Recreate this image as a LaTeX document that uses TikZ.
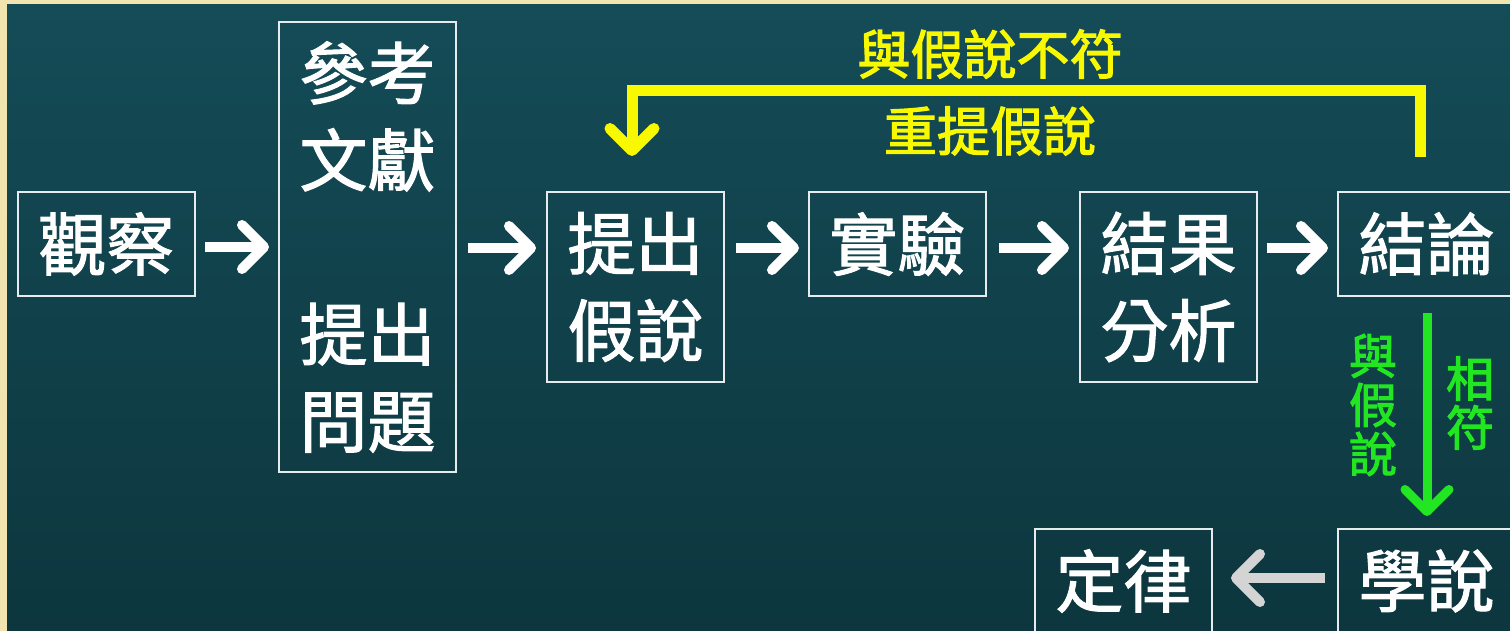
\documentclass[tikz,border=0pt]{standalone}
\usepackage{fontspec}
\newfontfamily\cjk[FakeBold=1.6]{Noto Sans CJK TC}
\newfontfamily\cjkb[FakeBold=2.2]{Noto Sans CJK TC}
\usetikzlibrary{arrows.meta}
\definecolor{beige}{HTML}{F2E4AE}
\definecolor{tealtop}{HTML}{144C57}
\definecolor{tealbot}{HTML}{0D363E}
\definecolor{boxline}{HTML}{E6ECEE}
\definecolor{yel}{HTML}{F8F800}
\definecolor{grn}{HTML}{22E622}
\definecolor{gry}{HTML}{D4D4D4}
\tikzset{
  box/.style={draw=boxline, line width=2pt, minimum width=177pt, inner sep=0pt,
    text=white, font=\cjk\fontsize{68}{87}\selectfont, align=center},
  warr/.style={draw=white, line width=10pt,
    -{Straight Barb[length=22pt,width=44pt,round]}},
  yarr/.style={draw=yel, line width=11pt,
    -{Straight Barb[length=22pt,width=44pt,round]}},
  garr/.style={draw=grn, line width=9pt,
    -{Straight Barb[length=22pt,width=44pt,round]}},
  gyarr/.style={draw=gry, line width=10pt,
    -{Straight Barb[length=24pt,width=48pt,round]}},
  ylab/.style={text=yel, font=\cjkb\fontsize{53}{53}\selectfont, inner sep=0pt},
  glab/.style={text=grn, font=\cjkb\fontsize{48}{49}\selectfont, inner sep=0pt, align=center},
}
\begin{document}
\begin{tikzpicture}[x=1pt,y=-1pt]
\useasboundingbox (0,0) rectangle (1510,631);
\fill[beige] (0,0) rectangle (1510,631);
\shade[top color=tealtop, bottom color=tealbot] (7,5) rectangle (1510,631);
\begin{scope}
\clip (7,5) rectangle (1510,631);
\node[box, minimum height=104pt] (obs) at (106.5,244) {觀察};
\node[box, minimum height=450pt] (ref) at (367.5,247) {參考\\文獻\\\mbox{}\\提出\\問題};
\node[box, minimum height=190pt] (hyp) at (635.5,287) {提出\\假說};
\node[box, minimum height=104pt] (exp) at (897.5,244) {實驗};
\node[box, minimum height=190pt] (ana) at (1168.5,287) {結果\\分析};
\node[box, minimum height=104pt] (con) at (1426.5,244) {結論};
\node[box, minimum height=104pt] (the) at (1426.5,581) {學說};
\node[box, minimum height=104pt] (law) at (1123.5,581) {定律};

\draw[warr] ([xshift=9pt,yshift=-3pt]obs.east) -- ([xshift=-9pt,yshift=-3pt]obs.east -| ref.west);
\draw[warr] ([xshift=11pt,yshift=-4pt]ref.east |- obs.east) -- ([xshift=-10pt,yshift=-4pt]obs.east -| hyp.west);
\draw[warr] ([xshift=11pt,yshift=-4pt]hyp.east |- obs.east) -- ([xshift=-9pt,yshift=-4pt]exp.west);
\draw[warr] ([xshift=12pt,yshift=-4pt]exp.east) -- ([xshift=-10pt,yshift=-4pt]exp.east -| ana.west);
\draw[warr] ([xshift=9pt,yshift=-4pt]ana.east |- obs.east) -- ([xshift=-9pt,yshift=-4pt]con.west);

\coordinate (ys) at (1420,157);
\coordinate (yb) at (632,91);
\coordinate (ye) at (632,156);
\draw[yarr] (ys) |- (yb) -- (ye);
\node[ylab] (t1) at (990,54) {與假說不符};
\node[ylab] (t2) at (990,131) {重提假說};

\coordinate (gs) at (1427,313);
\coordinate (ge) at (1427,516);
\draw[garr] (gs) -- (ge);
\node[glab] (g1) at (1373,405) {與\\假\\說};
\node[glab] (g2) at (1470,403) {相\\符};

\draw[gyarr] ([xshift=-12pt,yshift=3pt]the.west) -- ([xshift=18pt,yshift=3pt]law.east);
\end{scope}
\end{tikzpicture}
\end{document}
